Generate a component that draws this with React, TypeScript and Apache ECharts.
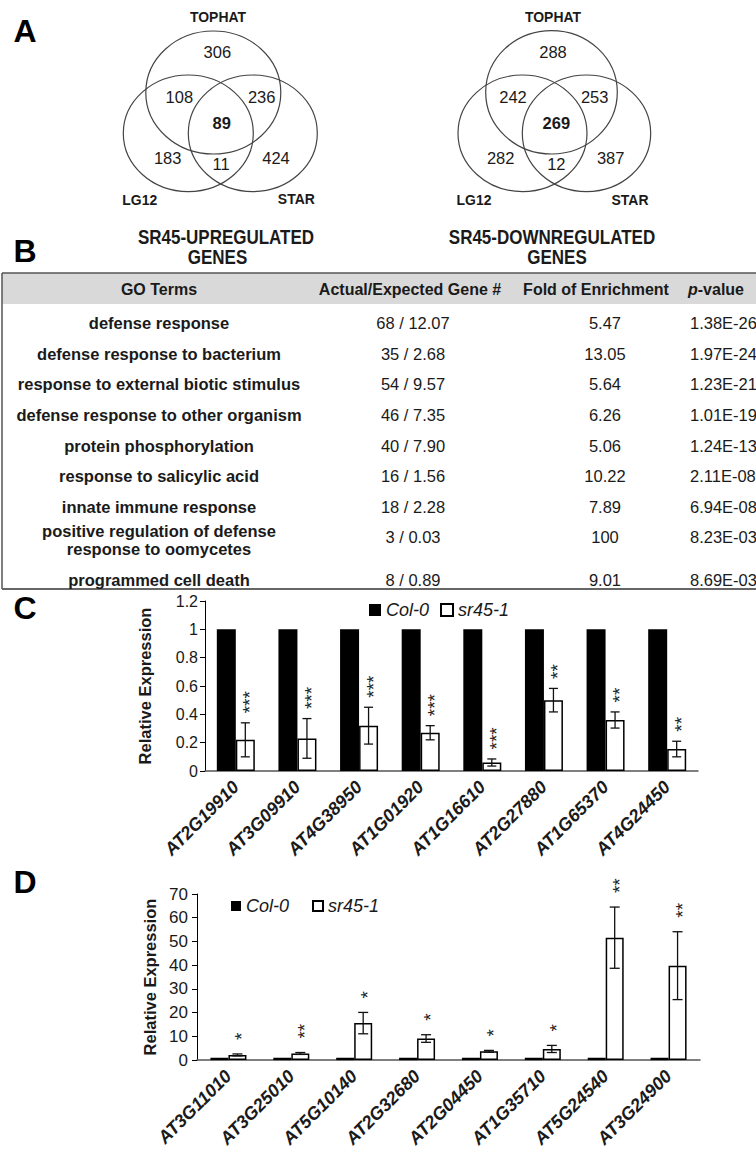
import React, { useEffect, useRef } from 'react';
import * as echarts from 'echarts';

const FONT = '"Liberation Sans", Arial, Helvetica, sans-serif';
const INK = '#1a1a1a';

// ---------- A: Venn diagrams ----------
const vennSets = ['TOPHAT', 'LG12', 'STAR'];
// order: TOPHAT only, TOPHAT∩LG12, TOPHAT∩STAR, all three, LG12 only, LG12∩STAR, STAR only
const upCounts = [306, 108, 236, 89, 183, 11, 424];
const downCounts = [288, 242, 253, 269, 282, 12, 387];
const vennTitles = ['SR45-UPREGULATED', 'SR45-DOWNREGULATED'];
const vennSubtitle = 'GENES';

// ---------- B: GO table ----------
const tableHeaders = ['GO Terms', 'Actual/Expected Gene #', 'Fold of Enrichment', 'p-value'];
const goTerms = [
  'defense response',
  'defense response to bacterium',
  'response to external biotic stimulus',
  'defense response to other organism',
  'protein phosphorylation',
  'response to salicylic acid',
  'innate immune response',
  'positive regulation of defense\nresponse to oomycetes',
  'programmed cell death',
];
const actualExpected = ['68 / 12.07', '35 / 2.68', '54 / 9.57', '46 / 7.35', '40 / 7.90', '16 / 1.56', '18 / 2.28', '3 / 0.03', '8 / 0.89'];
const foldEnrichment = ['5.47', '13.05', '5.64', '6.26', '5.06', '10.22', '7.89', '100', '9.01'];
const pValues = ['1.38E-26', '1.97E-24', '1.23E-21', '1.01E-19', '1.24E-13', '2.11E-08', '6.94E-08', '8.23E-03', '8.69E-03'];

// ---------- C ----------
const seriesNames = ['Col-0', 'sr45-1'];
const genesC = ['AT2G19910', 'AT3G09910', 'AT4G38950', 'AT1G01920', 'AT1G16610', 'AT2G27880', 'AT1G65370', 'AT4G24450'];
const colC = [1, 1, 1, 1, 1, 1, 1, 1];
const srC = [0.22, 0.23, 0.32, 0.27, 0.06, 0.5, 0.36, 0.155];
const srCErr = [0.12, 0.14, 0.13, 0.05, 0.025, 0.083, 0.057, 0.055];
const starsC = ['***', '***', '***', '***', '***', '**', '**', '**'];

// ---------- D ----------
const genesD = ['AT3G11010', 'AT3G25010', 'AT5G10140', 'AT2G32680', 'AT2G04450', 'AT1G35710', 'AT5G24540', 'AT3G24900'];
const colD = [1, 1, 1, 1, 1, 1, 1, 1];
const srD = [2.2, 2.8, 15.6, 9.1, 3.7, 4.7, 51.6, 39.8];
const srDErr = [0.4, 0.4, 4.5, 1.6, 0.4, 1.5, 12.9, 14.3];
const starsD = ['*', '**', '*', '*', '*', '*', '**', '**'];

// ---------- layout (positions only) ----------
const vennLayouts = [
  {
    ellipses: [
      [213.3, 92.5, 67.5, 61.5],
      [188.3, 133.3, 65, 58.3],
      [252.8, 133.3, 64.5, 58.3],
    ],
    nums: [[217.3, 52.3], [179.3, 96.7], [261.7, 96.7], [221.7, 123.3], [167.7, 158.3], [221, 164], [276, 158.3]],
    setLabels: [[218, 17], [139.7, 200], [296.3, 199]],
    title: [226, 237.3],
    sub: [217.5, 256.7],
  },
  {
    ellipses: [
      [551.5, 92.3, 65.8, 61.7],
      [522.5, 133.3, 64.5, 58.3],
      [586.5, 133.3, 64.2, 58.3],
    ],
    nums: [[553, 52.3], [513, 96.7], [594.7, 96.7], [556.3, 123.3], [500.7, 158.3], [556.3, 164], [610.7, 158.3]],
    setLabels: [[553, 17], [474, 200], [630, 200]],
    title: [552, 237.3],
    sub: [557, 256.7],
  },
];
const rowCenters = [323, 353.7, 384.3, 415, 445.7, 476.3, 507, 540, 579.5];
const valueRowCenters = [323, 353.7, 384.3, 415, 445.7, 476.3, 507, 537, 579.5];

function txt(x: number, y: number, text: string, o: any = {}) {
  const { scaleX, ...style } = o;
  const el: any = {
    type: 'text',
    x,
    y,
    silent: true,
    style: {
      text,
      fill: INK,
      fontFamily: FONT,
      fontSize: 16,
      align: 'center',
      verticalAlign: 'middle',
      ...style,
    },
  };
  if (scaleX) el.scaleX = scaleX;
  return el;
}

function buildGraphics() {
  const g: any[] = [];
  // panel letters
  [['A', 25, 31], ['B', 25, 251], ['C', 25, 608], ['D', 25, 882]].forEach(([t, x, y]) => {
    g.push(txt(x as number, y as number, t as string, { fontSize: 32, fontWeight: 'bold', fill: '#000' }));
  });
  // Venns
  [upCounts, downCounts].forEach((counts, vi) => {
    const L = vennLayouts[vi];
    L.ellipses.forEach(([cx, cy, rx, ry]) => {
      g.push({
        type: 'ellipse',
        silent: true,
        shape: { cx, cy, rx, ry },
        style: { fill: 'none', stroke: '#444', lineWidth: 1.2 },
      });
    });
    counts.forEach((c, i) => {
      g.push(txt(L.nums[i][0], L.nums[i][1], String(c), { fontSize: 16.5, fontWeight: i === 3 ? 'bold' : 'normal' }));
    });
    vennSets.forEach((s, i) => {
      g.push(txt(L.setLabels[i][0], L.setLabels[i][1], s, { fontSize: 15.5, fontWeight: 'bold', scaleX: 0.9 }));
    });
    g.push(txt(L.title[0], L.title[1], vennTitles[vi], { fontSize: 20, fontWeight: 'bold', scaleX: 0.85 }));
    g.push(txt(L.sub[0], L.sub[1], vennSubtitle, { fontSize: 20, fontWeight: 'bold', scaleX: 0.85 }));
  });
  // Table
  g.push({ type: 'rect', silent: true, shape: { x: 2, y: 273, width: 754, height: 31 }, style: { fill: '#d9d9d9' } });
  g.push({ type: 'line', silent: true, shape: { x1: 2, y1: 273, x2: 756, y2: 273 }, style: { stroke: '#555', lineWidth: 1.5 } });
  g.push({ type: 'line', silent: true, shape: { x1: 2, y1: 273, x2: 2, y2: 589 }, style: { stroke: '#555', lineWidth: 1.5 } });
  g.push({ type: 'line', silent: true, shape: { x1: 2, y1: 589, x2: 756, y2: 589 }, style: { stroke: '#666', lineWidth: 2 } });
  const hy = 289;
  g.push(txt(159, hy, tableHeaders[0], { fontWeight: 'bold' }));
  g.push(txt(410, hy, tableHeaders[1], { fontWeight: 'bold' }));
  g.push(txt(596, hy, tableHeaders[2], { fontWeight: 'bold' }));
  g.push(
    txt(688, hy, '{i|p}{n|' + tableHeaders[3].slice(1) + '}', {
      align: 'left',
      rich: {
        i: { fontStyle: 'italic', fontWeight: 'bold', fontSize: 16, fontFamily: FONT, fill: INK },
        n: { fontWeight: 'bold', fontSize: 16, fontFamily: FONT, fill: INK },
      },
    })
  );
  goTerms.forEach((t, i) => {
    g.push(txt(159, rowCenters[i], t, { fontWeight: 'bold', fontSize: 16.5, lineHeight: 18 }));
    g.push(txt(413, valueRowCenters[i], actualExpected[i], { fontSize: 16.5 }));
    g.push(txt(605, valueRowCenters[i], foldEnrichment[i], { fontSize: 16.5 }));
    g.push(txt(690, valueRowCenters[i], pValues[i], { fontSize: 16.5, align: 'left' }));
  });
  return g;
}

function errSeries(means: number[], errs: number[], stars: string[], axisIdx: number, offset: number, gap: number, cap: number) {
  return {
    type: 'custom',
    xAxisIndex: axisIdx,
    yAxisIndex: axisIdx,
    silent: true,
    z: 5,
    data: means.map((m, i) => [i, m, errs[i]]),
    renderItem: (params: any, api: any) => {
      const i = api.value(0);
      const m = api.value(1);
      const e = api.value(2);
      const top = api.coord([i, m + e]);
      const bot = api.coord([i, m - e]);
      const x = top[0] + offset;
      const ls = { stroke: '#111', lineWidth: 1.3 };
      return {
        type: 'group',
        children: [
          { type: 'line', shape: { x1: x, y1: top[1], x2: x, y2: bot[1] }, style: ls },
          { type: 'line', shape: { x1: x - cap, y1: top[1], x2: x + cap, y2: top[1] }, style: ls },
          { type: 'line', shape: { x1: x - cap, y1: bot[1], x2: x + cap, y2: bot[1] }, style: ls },
          {
            type: 'text',
            x: x + 4.5,
            y: top[1] - gap,
            rotation: Math.PI / 2,
            style: {
              text: stars[params.dataIndex],
              fill: '#222',
              fontFamily: FONT,
              fontSize: 19,
              align: 'left',
              verticalAlign: 'middle',
            },
          },
        ],
      };
    },
  };
}

function barPair(cols: number[], srs: number[], idx: number, bw: number) {
  return [
    {
      type: 'bar',
      name: seriesNames[0],
      xAxisIndex: idx,
      yAxisIndex: idx,
      data: cols,
      barWidth: bw,
      barGap: '0%',
      itemStyle: { color: '#000' },
    },
    {
      type: 'bar',
      name: seriesNames[1],
      xAxisIndex: idx,
      yAxisIndex: idx,
      data: srs,
      barWidth: bw,
      barGap: '0%',
      itemStyle: { color: '#fff', borderColor: '#000', borderWidth: 1.5 },
    },
  ];
}

function xAxis(data: string[], idx: number) {
  return {
    type: 'category',
    gridIndex: idx,
    data,
    axisLine: { show: true, lineStyle: { color: '#555', width: 1.5 } },
    axisTick: { show: false },
    axisLabel: {
      rotate: 45,
      interval: 0,
      margin: 13,
      fontFamily: FONT,
      fontStyle: 'italic',
      fontWeight: 'bold',
      fontSize: 18,
      color: INK,
    },
    splitLine: { show: false },
  };
}

function yAxis(idx: number, max: number, interval: number, labelSize: number, labelMargin: number, nameGap: number) {
  return {
    type: 'value',
    gridIndex: idx,
    min: 0,
    max,
    interval,
    name: 'Relative Expression',
    nameLocation: 'middle',
    nameRotate: 90,
    nameGap,
    nameTextStyle: { fontFamily: FONT, fontWeight: 'bold', fontSize: 16.5, color: INK },
    axisLine: { show: true, lineStyle: { color: '#000', width: 1 } },
    axisTick: { show: true, length: 5, lineStyle: { color: '#000' } },
    axisLabel: { fontFamily: FONT, fontSize: labelSize, color: INK, margin: labelMargin },
    splitLine: { show: false },
  };
}

export default function App() {
  const ref = useRef<HTMLDivElement>(null);
  useEffect(() => {
    if (!ref.current) return;
    const chart = echarts.init(ref.current, undefined, { renderer: 'svg' });
    const legendText = { fontFamily: FONT, fontStyle: 'italic', fontSize: 18, color: INK };
    chart.setOption({
      animation: false,
      backgroundColor: '#fff',
      legend: [
        {
          data: seriesNames,
          left: 369,
          top: 601,
          padding: 0,
          icon: 'rect',
          itemWidth: 12,
          itemHeight: 12,
          itemGap: 11,
          selectedMode: false,
          textStyle: legendText,
        },
        {
          data: seriesNames,
          left: 231,
          top: 897,
          padding: 0,
          icon: 'rect',
          itemWidth: 10,
          itemHeight: 10,
          itemGap: 23,
          selectedMode: false,
          textStyle: legendText,
        },
      ],
      grid: [
        { left: 205, top: 601, width: 493, height: 170 },
        { left: 197, top: 894, width: 503, height: 168 },
      ],
      xAxis: [xAxis(genesC, 0), xAxis(genesD, 1)],
      yAxis: [yAxis(0, 1.2, 0.2, 16, 7, 52), yAxis(1, 70, 10, 17, 9, 39)],
      series: [
        ...barPair(colC, srC, 0, 19),
        errSeries(srC, srCErr, starsC, 0, 9.5, 9.5, 4.5),
        ...barPair(colD, srD, 1, 18),
        errSeries(srD, srDErr, starsD, 1, 9, 14, 5),
      ],
      graphic: buildGraphics(),
    });
    return () => chart.dispose();
  }, []);
  return <div ref={ref} style={{ position: 'absolute', left: 0, top: 0, width: 756, height: 1150 }} />;
}
